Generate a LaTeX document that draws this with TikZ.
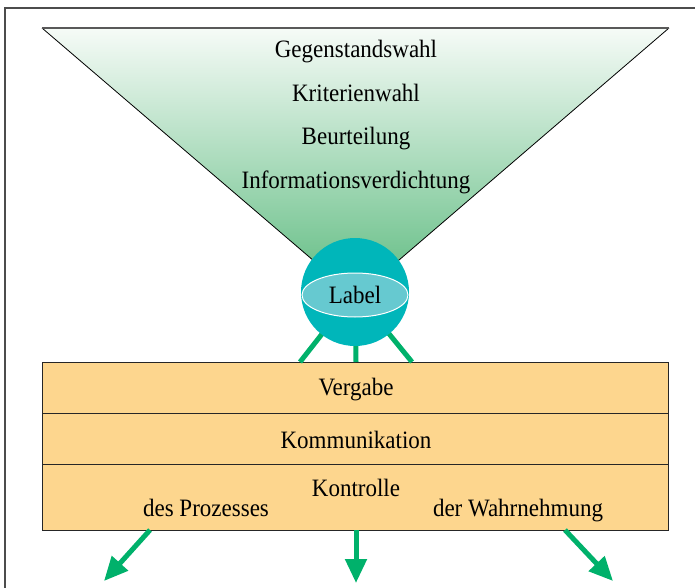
\documentclass[tikz,border=0pt]{standalone}
\usepackage{fontspec}
\setmainfont{Liberation Serif}[FakeStretch=0.92]
\usetikzlibrary{shapes.geometric,arrows.meta}

\definecolor{legreen}{HTML}{00B16B}
\definecolor{ballteal}{HTML}{00B6BA}
\definecolor{lensblue}{HTML}{66C9D0}
\definecolor{boxorange}{HTML}{FDD68E}
\definecolor{funtop}{HTML}{F6FBF7}
\definecolor{funbot}{HTML}{5EBB80}

\tikzset{
  txt/.style={anchor=base, inner sep=0pt, font=\fontsize{25}{29}\selectfont},
  row/.style={draw=black!85, line width=1pt, fill=boxorange, anchor=north west,
    minimum width=626pt, inner sep=0pt},
  leg/.style={draw=legreen, line width=5pt},
  outarrow/.style={draw=legreen, line width=5pt, -{Triangle[length=24pt,width=21pt]}}
}

\begin{document}
\begin{tikzpicture}[x=1pt,y=-1pt]

  \useasboundingbox (0,0) rectangle (695,588);

  \draw [black!70, line width=1.5pt] (5,592) -- (5,8) -- (699,8);

  \shade [top color=funtop, bottom color=funbot] (42,28) -- (669,28) -- (356,297) -- cycle;
  \draw [black, line width=0.8pt] (42,28) -- (356,297) -- (669,28);
  \draw [black!65, line width=2pt] (42,28) -- (669,28);

  \node [txt] (gegen) at (356,58) {Gegenstandswahl};
  \node [txt] (krit) at (356,102) {Kriterienwahl};
  \node [txt] (beurt) at (356,145) {Beurteilung};
  \node [txt] (info) at (356,188) {Informationsverdichtung};

  \node [row, minimum height=51pt] (vergabe) at (42,362) {};
  \node [row, minimum height=51pt] (komm) at (42,413) {};
  \node [row, minimum height=66pt] (kontr) at (42,464) {};

  \coordinate (legL) at (300,362);
  \coordinate (legM) at (356,362);
  \coordinate (legR) at (412,362);
  \coordinate (hub) at (355,292);
  \draw [leg] (hub) -- (legL);
  \draw [leg] (hub) -- (legM);
  \draw [leg] (hub) -- (legR);

  \node [circle, fill=ballteal, minimum size=108pt, inner sep=0pt] (ball) at (hub) {};
  \node [ellipse, fill=lensblue, draw=white, line width=1pt, minimum width=106pt,
    minimum height=44pt, inner sep=0pt] (lens) at (355,295) {};
  \node [txt] (label) at (355,303) {Label};

  \node [txt] (vtxt) at (356,395) {Vergabe};
  \node [txt] (ktxt) at (356,448) {Kommunikation};
  \node [txt] (ctxt) at (356,496) {Kontrolle};
  \node [txt] (proz) at (206,516) {des Prozesses};
  \node [txt] (wahr) at (518,516) {der Wahrnehmung};

  \coordinate (srcL) at (150,530);
  \coordinate (srcM) at (356,530);
  \coordinate (srcR) at (565,530);
  \coordinate (outL) at (104,581);
  \coordinate (outM) at (356,583);
  \coordinate (outR) at (613,581);
  \draw [outarrow] (srcL) -- (outL);
  \draw [outarrow] (srcM) -- (outM);
  \draw [outarrow] (srcR) -- (outR);

\end{tikzpicture}
\end{document}
